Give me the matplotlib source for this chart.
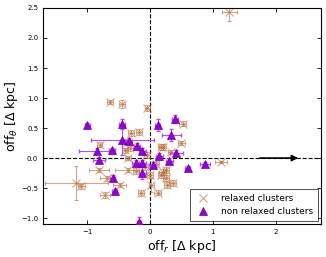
import numpy as np
import matplotlib
matplotlib.use('Agg')
import matplotlib.pyplot as plt

# relaxed clusters: offsets and errors
rel_x = [1.26, -0.64, -0.44, -0.04, 0.52, 0.50, -0.17, -0.30, -0.37, 0.18, -0.80, -0.32, 0.20,
         -0.40, 0.34, -0.35, 1.13, -0.81, -0.35, -0.22, 0.00, 0.20, 0.26, 0.36, -0.69, -1.17,
         -1.09, -0.48, -0.72, -0.14, 0.02, 0.12, 0.18, 0.26, 0.10, -0.05, 0.27, -0.08]
rel_y = [2.43, 0.93, 0.90, 0.84, 0.57, 0.25, 0.43, 0.42, 0.27, 0.18, 0.22, 0.17, 0.18,
         0.13, 0.10, 0.00, -0.07, -0.20, -0.20, -0.22, -0.28, -0.23, -0.33, -0.42, -0.34, -0.42,
         -0.47, -0.45, -0.62, -0.58, -0.45, -0.58, -0.28, -0.20, -0.10, 0.05, -0.45, -0.15]
rel_xerr = [0.12, 0.05, 0.05, 0.04, 0.06, 0.05, 0.05, 0.05, 0.05, 0.05, 0.04, 0.05, 0.05,
            0.05, 0.05, 0.05, 0.09, 0.16, 0.20, 0.05, 0.05, 0.05, 0.05, 0.05, 0.10, 0.50,
            0.05, 0.10, 0.08, 0.05, 0.04, 0.05, 0.05, 0.05, 0.05, 0.05, 0.05, 0.05]
rel_yerr = [0.15, 0.03, 0.07, 0.05, 0.04, 0.04, 0.05, 0.05, 0.04, 0.05, 0.04, 0.05, 0.05,
            0.04, 0.04, 0.04, 0.02, 0.04, 0.04, 0.05, 0.05, 0.05, 0.05, 0.05, 0.04, 0.28,
            0.04, 0.04, 0.05, 0.05, 0.12, 0.04, 0.05, 0.05, 0.05, 0.05, 0.05, 0.05]

# non relaxed clusters
non_x = [-1.00, -0.44, 0.12, 0.40, 0.34, -0.44, -0.34, -0.21, -0.12, 0.15, 0.42, -0.85,
         -0.81, -0.60, -0.59, -0.56, -0.23, -0.12, -0.12, 0.04, 0.31, 0.60, 0.88, -0.18]
non_y = [0.55, 0.57, 0.55, 0.65, 0.38, 0.30, 0.28, 0.20, 0.12, 0.03, 0.08, 0.12,
         -0.03, 0.13, -0.33, -0.55, -0.08, -0.08, -0.25, -0.12, -0.05, -0.17, -0.10, -1.07]
non_xerr = [0.04, 0.05, 0.04, 0.05, 0.15, 0.50, 0.05, 0.05, 0.05, 0.05, 0.10, 0.28,
            0.10, 0.05, 0.04, 0.04, 0.05, 0.05, 0.05, 0.05, 0.05, 0.04, 0.08, 0.03]
non_yerr = [0.03, 0.08, 0.10, 0.07, 0.10, 0.25, 0.05, 0.05, 0.05, 0.05, 0.05, 0.04,
            0.04, 0.04, 0.04, 0.04, 0.05, 0.05, 0.10, 0.05, 0.05, 0.03, 0.03, 0.08]

rel_col = '#b86a3a'
non_col = 'darkviolet'

fig = plt.figure(figsize=(3.26, 2.57), dpi=100)
ax = fig.add_axes([0.132, 0.128, 0.853, 0.841])

ax.axhline(0, color='k', ls='--', lw=0.8, zorder=1)
ax.axvline(0, color='k', ls='--', lw=0.8, zorder=1)

ax.errorbar(rel_x, rel_y, xerr=rel_xerr, yerr=rel_yerr, fmt='x', color=rel_col,
            ms=6, mew=0.8, elinewidth=0.8, capsize=1.5, alpha=0.6, zorder=2)
ax.errorbar(non_x, non_y, xerr=non_xerr, yerr=non_yerr, fmt='none', ecolor='#b24df2',
            elinewidth=0.8, capsize=1.5, zorder=3)
ax.plot(non_x, non_y, '^', color=non_col, mec='#6a00a0', ms=6, mew=0.5, zorder=4)

# legend handles without error bars
h1, = ax.plot([], [], 'x', color=rel_col, alpha=0.6, ms=6, mew=0.8)
h2, = ax.plot([], [], '^', color=non_col, mec='#6a00a0', ms=6, mew=0.5)

ax.annotate('', xy=(2.4, 0), xytext=(1.7, 0),
            arrowprops=dict(arrowstyle='-|>', color='k', lw=1.2, mutation_scale=9))

ax.set_xlim(-1.7, 2.72)
ax.set_ylim(-1.1, 2.5)
ax.set_xticks([-1, 0, 1, 2])
ax.set_yticks([-1.0, -0.5, 0.0, 0.5, 1.0, 1.5, 2.0, 2.5])
ax.tick_params(direction='in', top=True, right=True, labelsize=5, length=3, width=0.6)
ax.set_xlabel(r'off$_r$ [$\Delta$ kpc]', fontsize=9, labelpad=2)
ax.set_ylabel(r'off$_\theta$ [$\Delta$ kpc]', fontsize=9, labelpad=1)

leg = ax.legend([h1, h2], ['relaxed clusters', 'non relaxed clusters'], loc='lower right',
                fontsize=6.5, numpoints=1, frameon=True, fancybox=False,
                borderaxespad=0.35, handletextpad=1.0, borderpad=0.5)
leg.get_frame().set_edgecolor('k')
leg.get_frame().set_linewidth(0.6)

fig.savefig('out.png', dpi=100)
